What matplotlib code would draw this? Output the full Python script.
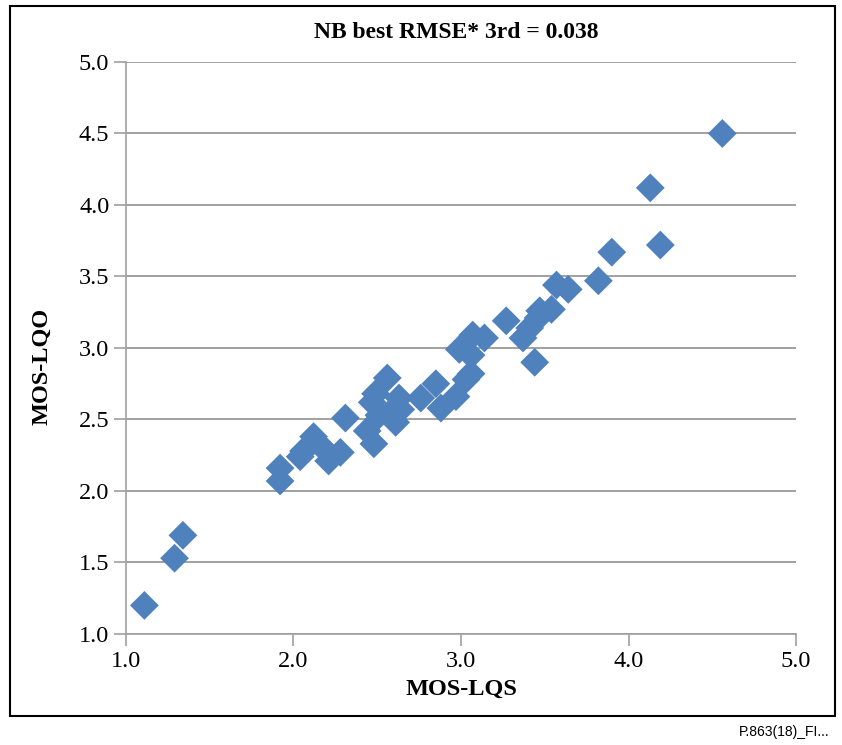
import matplotlib.pyplot as plt
from matplotlib.patches import Rectangle

# MOS-LQS (subjective) vs MOS-LQO (objective)
mos_lqs = [1.11, 1.29, 1.34, 1.92, 1.92, 2.04, 2.06, 2.12, 2.16, 2.21,
           2.28, 2.31, 2.44, 2.48, 2.47, 2.49, 2.51, 2.56, 2.58, 2.61,
           2.63, 2.64, 2.76, 2.85, 2.88, 2.97, 2.99, 3.03, 3.06, 3.06,
           3.07, 3.14, 3.27, 3.37, 3.41, 3.44, 3.46, 3.47, 3.54, 3.57,
           3.64, 3.82, 3.90, 4.13, 4.19, 4.56]
mos_lqo = [1.20, 1.53, 1.69, 2.07, 2.16, 2.24, 2.28, 2.38, 2.32, 2.21,
           2.27, 2.51, 2.42, 2.33, 2.62, 2.68, 2.53, 2.79, 2.55, 2.48,
           2.65, 2.57, 2.65, 2.75, 2.58, 2.66, 2.99, 2.78, 2.82, 2.95,
           3.09, 3.07, 3.19, 3.07, 3.14, 2.90, 3.21, 3.26, 3.27, 3.44,
           3.41, 3.47, 3.67, 4.12, 3.72, 4.50]

title = 'NB best RMSE* 3rd = 0.038'
ticks = [1.0, 2.0, 3.0, 4.0, 5.0]
yticks = [1.0, 1.5, 2.0, 2.5, 3.0, 3.5, 4.0, 4.5, 5.0]

plt.rcParams['font.family'] = 'Liberation Serif'
grey = '#a0a0a0'

fig = plt.figure(figsize=(8.42, 7.45), dpi=100)
ax = fig.add_axes([0.1496, 0.149, 0.7958, 0.7678])

ax.scatter(mos_lqs, mos_lqo, marker='D', s=215, color='#4f81bd',
           edgecolors='none', zorder=3)

ax.set_xlim(1.0, 5.0)
ax.set_ylim(1.0, 5.0)
ax.set_xticks(ticks)
ax.set_yticks(yticks)
ax.set_xticklabels(['%.1f' % t for t in ticks])
ax.set_yticklabels(['%.1f' % t for t in yticks])
ax.tick_params(labelsize=17.5, color=grey, length=8.5, width=1.2, pad=3.5)

ax.yaxis.grid(True, color=grey, linewidth=1.4)
ax.set_axisbelow(True)
for side in ['top', 'right']:
    ax.spines[side].set_visible(False)
for side in ['left', 'bottom']:
    ax.spines[side].set_color(grey)
    ax.spines[side].set_linewidth(1.2)

ax.set_xlabel('MOS-LQS', fontsize=17.5, fontweight='bold')
ax.set_ylabel('MOS-LQO', fontsize=17.5, fontweight='bold')
ax.xaxis.set_label_coords(0.5, -0.078)
ax.yaxis.set_label_coords(-0.11, 0.4685)
fig.text(456 / 842, 1 - 33 / 745, title, fontsize=17, fontweight='bold',
         ha='center', va='center')

# outer frame and figure id
fig.patches.append(Rectangle((0.012, 0.039), 0.98, 0.953, transform=fig.transFigure,
                             fill=False, edgecolor='black', linewidth=1.5))
fig.text(0.878, 0.018, 'P.863(18)_FI...', fontsize=10, family='Liberation Sans',
         va='center')

fig.savefig('out.png', dpi=100)
